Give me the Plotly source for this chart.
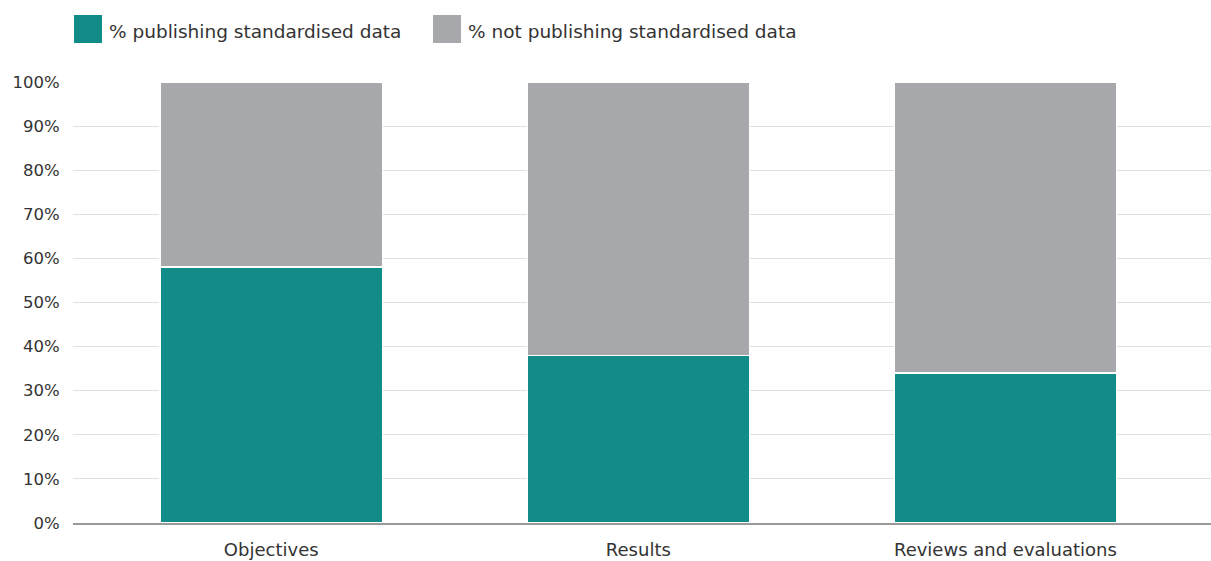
import plotly.graph_objects as go

categories = ["Objectives", "Results", "Reviews and evaluations"]
publishing = [58, 38, 34]
not_publishing = [42, 62, 66]
series_names = ["% publishing standardised data", "% not publishing standardised data"]
colors = ["#128c88", "#a7a8ab"]
y_ticks = [0, 10, 20, 30, 40, 50, 60, 70, 80, 90, 100]
y_ticklabels = [f"{v}%" for v in y_ticks]

FONT = "DejaVu Sans"

fig = go.Figure()
for name, vals, col in zip(series_names, [publishing, not_publishing], colors):
    fig.add_trace(go.Bar(
        x=categories, y=vals, name=name,
        marker=dict(color=col, line=dict(color="white", width=1.5)),
        width=0.605, showlegend=False,
    ))

# legend drawn as shapes + text annotations
leg_x = [74, 433]
for i, (name, col) in enumerate(zip(series_names, colors)):
    fig.add_shape(type="rect", xref="paper", yref="paper",
                  x0=(leg_x[i] - 73) / 1138, x1=(leg_x[i] + 28 - 73) / 1138,
                  y0=(523 - 15) / 441, y1=(523 - 43) / 441,
                  fillcolor=col, line=dict(width=0))
    fig.add_annotation(text=name, xref="paper", yref="paper",
                       x=(leg_x[i] + 33 - 73) / 1138, y=(523 - 31.5) / 441,
                       xanchor="left", yanchor="middle", showarrow=False,
                       font=dict(family=FONT, size=18.5, color="#333333"))

fig.update_layout(
    barmode="stack",
    width=1211, height=561,
    margin=dict(l=73, r=0, t=82, b=38),
    paper_bgcolor="white", plot_bgcolor="white",
    font=dict(family=FONT, size=16, color="#333333"),
    showlegend=False,
    xaxis=dict(range=[-0.54, 2.56], showgrid=False, showline=True,
               linecolor="#999999", linewidth=1.5,
               ticks="outside", ticklen=10, tickcolor="rgba(0,0,0,0)",
               tickfont=dict(family=FONT, size=18, color="#333333")),
    yaxis=dict(range=[0, 100], tickvals=y_ticks, ticktext=y_ticklabels,
               showgrid=True, gridcolor="#e0e0e0", gridwidth=1.3,
               zeroline=False, showline=False,
               ticks="outside", ticklen=9, tickcolor="rgba(0,0,0,0)",
               tickfont=dict(family=FONT, size=16.5, color="#333333")),
)

fig.write_html("out.html", config={"displayModeBar": False},
               post_script="document.body.style.margin='0';document.body.style.overflow='hidden';")
